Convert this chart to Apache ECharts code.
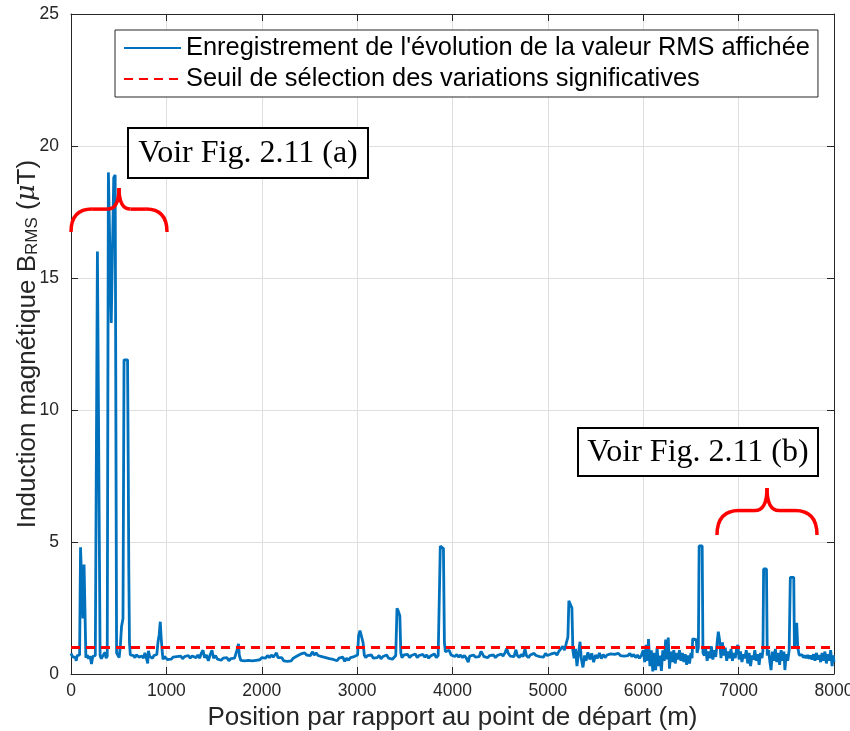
<!DOCTYPE html>
<html lang="fr">
<head>
<meta charset="UTF-8">
<title>Induction magnétique B_RMS</title>
<script src="https://cdn.jsdelivr.net/npm/echarts@6/dist/echarts.min.js"></script>
<style>
  html, body { margin: 0; padding: 0; background: #fff; }
  #chart { width: 850px; height: 731px; }
</style>
</head>
<body>
<div id="chart"></div>
<script>
// relevé B_RMS (µT) en fonction de la position (m)
var trace0to1000 = [
  [0,0.78],[15,0.66],[30,0.72],[45,0.62],[55,0.5],[65,0.7],[80,0.64],[90,0.72],
  [100,4.8],[118,4.8],[125,2.1],[132,2.1],[137,4.15],[148,4.1],[156,0.62],[170,0.72],
  [185,0.58],[200,0.68],[215,0.38],[228,0.66],[242,0.6],[255,0.7],[263,0.75],
  [277,16.0],[296,16.05],[305,0.7],[318,0.58],[330,0.66],[345,0.6],[358,0.82],[368,0.6],[380,0.68],
  [392,19.0],[410,19.05],[422,13.3],[432,13.3],[448,18.8],[463,18.9],[478,0.8],
  [490,0.72],[505,0.62],[518,1.1],[530,1.8],[545,2.1],[556,11.9],[576,11.95],[593,11.9],
  [600,8.0],[606,4.0],[613,1.2],[622,0.72],[640,0.66],[655,0.7],[670,0.62],[685,0.72],
  [700,0.66],[715,0.64],[730,0.7],[745,0.68],[760,0.6],[775,0.8],[790,0.62],[804,0.4],
  [812,0.88],[825,0.66],[840,0.72],[855,0.6],[870,0.7],[885,0.64],[900,0.74],[912,1.2],
  [925,1.5],[936,1.98],[945,1.4],[955,0.9],[965,0.55],[980,0.66],[995,0.6]
];
var trace1000to2000 = [
  [1010,0.55],[1030,0.62],[1050,0.56],[1070,0.64],[1090,0.58],[1110,0.66],[1130,0.6],[1150,0.68],
  [1170,0.58],[1190,0.66],[1210,0.62],[1230,0.7],[1250,0.6],[1270,0.68],[1290,0.74],[1310,0.62],
  [1330,0.72],[1350,0.6],[1365,0.78],[1384,0.9],[1400,0.62],[1420,0.72],[1440,0.5],[1460,0.74],
  [1478,0.9],[1495,0.6],[1515,0.7],[1535,0.56],[1555,0.62],[1575,0.52],[1595,0.6],[1615,0.55],
  [1635,0.62],[1655,0.5],[1675,0.58],[1695,0.54],[1715,0.6],[1735,0.62],[1748,1.0],[1756,1.14],
  [1765,0.7],[1780,0.52],[1800,0.58],[1820,0.5],[1840,0.56],[1860,0.52],[1880,0.58],[1900,0.5],
  [1920,0.55],[1940,0.52],[1960,0.58],[1980,0.54]
];
var trace2000to3000 = [
  [2000,0.62],[2020,0.68],[2040,0.6],[2060,0.7],[2080,0.62],[2100,0.72],[2120,0.64],[2140,0.7],
  [2155,0.8],[2170,0.62],[2190,0.56],[2210,0.62],[2230,0.5],[2250,0.56],[2270,0.48],[2290,0.55],
  [2310,0.5],[2330,0.6],[2350,0.56],[2370,0.68],[2390,0.64],[2410,0.76],[2430,0.7],[2450,0.8],
  [2470,0.72],[2490,0.78],[2510,0.7],[2530,0.84],[2550,0.72],[2570,0.8],[2590,0.7],[2610,0.76],
  [2630,0.66],[2650,0.72],[2670,0.62],[2690,0.68],[2710,0.58],[2730,0.64],[2750,0.55],[2770,0.62],
  [2790,0.5],[2810,0.6],[2830,0.55],[2850,0.64],[2870,0.48],[2890,0.6],[2910,0.52],[2930,0.62],
  [2950,0.55],[2970,0.66],[2990,0.6]
];
var trace3000to4000 = [
  [3005,0.72],[3015,1.45],[3030,1.64],[3050,1.6],[3062,1.2],[3075,0.72],[3090,0.62],[3110,0.7],
  [3130,0.64],[3150,0.72],[3170,0.6],[3190,0.66],[3210,0.62],[3230,0.7],[3250,0.58],[3270,0.66],
  [3290,0.62],[3310,0.72],[3330,0.6],[3350,0.66],[3370,0.56],[3390,0.6],[3405,0.7],[3418,2.49],
  [3430,2.4],[3448,2.2],[3458,0.8],[3470,0.62],[3490,0.72],[3510,0.66],[3530,0.74],[3550,0.62],
  [3570,0.7],[3590,0.66],[3610,0.76],[3630,0.62],[3650,0.7],[3670,0.66],[3690,0.74],[3710,0.64],
  [3730,0.72],[3750,0.6],[3770,0.68],[3790,0.66],[3810,0.76],[3830,0.62],[3850,0.7],[3862,0.66],
  [3872,4.85],[3890,4.8],[3905,4.75],[3915,1.2],[3925,0.85],[3945,0.78],[3965,0.9],[3985,0.72]
];
var trace4000to5000 = [
  [4005,0.76],[4025,0.66],[4045,0.74],[4065,0.64],[4085,0.72],[4105,0.62],[4125,0.7],[4145,0.6],
  [4165,0.45],[4180,0.68],[4200,0.62],[4220,0.72],[4240,0.64],[4260,0.7],[4280,0.66],[4300,0.86],
  [4315,0.8],[4330,0.66],[4350,0.72],[4370,0.62],[4390,0.7],[4410,0.66],[4430,0.72],[4450,0.62],
  [4470,0.7],[4490,0.66],[4510,0.76],[4530,0.68],[4550,0.8],[4568,0.97],[4585,0.78],[4605,0.68],
  [4625,0.74],[4645,0.66],[4665,0.92],[4680,0.7],[4700,0.62],[4720,0.74],[4740,0.66],[4760,0.95],
  [4775,0.7],[4795,0.62],[4815,0.72],[4835,0.66],[4855,0.78],[4875,0.7],[4895,0.76],[4915,0.66],
  [4935,0.72],[4955,0.64],[4975,0.78],[4995,0.7]
];
var trace5000to6000 = [
  [5015,0.66],[5035,0.76],[5055,0.7],[5075,0.8],[5095,0.72],[5115,0.86],[5135,0.92],[5155,1.05],
  [5175,0.9],[5195,1.2],[5210,1.4],[5220,2.77],[5235,2.75],[5252,2.5],[5262,0.9],[5275,0.6],
  [5290,0.95],[5305,0.3],[5320,0.75],[5337,1.22],[5350,0.6],[5368,0.25],[5385,0.7],[5400,0.5],
  [5420,0.82],[5440,0.55],[5460,0.78],[5480,0.45],[5500,0.72],[5520,0.6],[5540,0.8],[5560,0.58],
  [5580,0.74],[5600,0.62],[5620,0.72],[5640,0.68],[5660,0.76],[5680,0.7],[5700,0.74],[5720,0.68],
  [5740,0.78],[5760,0.7],[5780,0.76],[5800,0.68],[5820,0.74],[5840,0.7],[5860,0.78],[5880,0.66],
  [5900,0.74],[5920,0.62],[5940,0.72],[5960,0.6],[5980,0.7]
];
var trace6000to7000 = [
  [6000,0.9],[6015,0.45],[6030,1.1],[6045,0.5],[6055,1.32],[6070,0.3],[6085,0.9],[6100,0.1],
  [6115,0.8],[6130,0.15],[6145,1.0],[6160,0.3],[6175,0.7],[6190,0.12],[6205,0.9],[6220,0.5],
  [6235,1.3],[6250,0.55],[6262,1.38],[6275,0.2],[6290,0.85],[6305,0.45],[6320,0.9],[6335,0.4],
  [6350,0.8],[6365,0.55],[6380,0.9],[6395,0.5],[6410,0.8],[6425,0.45],[6440,0.75],[6455,0.35],
  [6470,0.7],[6485,0.4],[6500,0.8],[6512,0.6],[6518,1.33],[6556,1.3],[6565,0.8],[6578,1.0],
  [6586,4.85],[6618,4.85],[6626,0.8],[6640,0.7],[6655,0.95],[6670,0.5],[6685,0.85],[6700,0.6],
  [6715,1.05],[6730,0.55],[6745,0.9],[6760,0.65],[6775,1.2],[6787,1.6],[6800,1.3],[6815,0.6],
  [6830,1.2],[6845,0.7],[6860,1.0],[6875,0.5],[6890,0.85],[6905,0.6],[6920,0.95],[6935,0.5],
  [6950,0.8],[6965,0.6],[6980,1.0],[6992,1.1]
];
var trace7000to8000 = [
  [7005,0.55],[7020,0.85],[7035,0.45],[7050,0.75],[7065,0.6],[7080,0.9],[7095,0.4],[7110,0.8],
  [7125,0.3],[7140,0.7],[7155,0.55],[7170,0.9],[7185,0.5],[7200,0.75],[7215,0.35],[7230,0.8],
  [7245,0.6],[7255,0.9],[7262,3.98],[7292,3.98],[7300,0.7],[7315,0.9],[7328,0.45],[7340,0.15],
  [7355,0.85],[7370,0.5],[7385,0.95],[7400,0.45],[7415,0.8],[7430,0.35],[7445,0.9],[7460,0.5],
  [7475,0.85],[7485,0.15],[7500,0.75],[7515,0.5],[7530,0.9],[7542,3.66],[7578,3.66],[7585,1.0],
  [7600,1.5],[7609,1.94],[7620,1.0],[7635,0.72],[7650,0.66],[7665,0.72],[7680,0.62],[7695,0.7],
  [7710,0.6],[7725,0.72],[7740,0.58],[7755,0.7],[7770,0.55],[7785,0.75],[7800,0.5],[7815,0.8],
  [7830,0.55],[7845,0.72],[7860,0.45],[7875,0.8],[7890,0.5],[7905,0.85],[7920,0.4],[7935,0.75],
  [7950,0.5],[7965,0.9],[7980,0.3],[7992,0.7],[8000,0.45]
];
var seuil = [[0, 1], [8000, 1]];
var xTicks = [0, 8000, 1000];
var yTicks = [0, 25, 5];

var trace = [].concat(trace0to1000, trace1000to2000, trace2000to3000, trace3000to4000,
                      trace4000to5000, trace5000to6000, trace6000to7000, trace7000to8000);

var axisCol = '#262626';
var sans = 'Liberation Sans, Arial, sans-serif';

// accolade rouge, faite de courbes et segments (pixels)
function brace(x0, x1, yEnd, yTip) {
  var xc = (x0 + x1) / 2, w = x1 - x0;
  var ym = yEnd - (yEnd - yTip) * 0.52;
  var st = { stroke: '#FF0000', lineWidth: 3.5, fill: null };
  function q(ax, ay, cx, cy, bx, by) {
    return { type: 'bezierCurve', z: 100, shape: { x1: ax, y1: ay, cpx1: cx, cpy1: cy, x2: bx, y2: by }, style: st };
  }
  function l(ax, ay, bx, by) {
    return { type: 'line', z: 100, shape: { x1: ax, y1: ay, x2: bx, y2: by }, style: st };
  }
  return [
    q(x0, yEnd, x0, ym, x0 + w * 0.22, ym),
    l(x0 + w * 0.22, ym, xc - w * 0.12, ym),
    q(xc - w * 0.12, ym, xc, ym, xc, yTip),
    q(xc, yTip, xc, ym, xc + w * 0.12, ym),
    l(xc + w * 0.12, ym, x1 - w * 0.22, ym),
    q(x1 - w * 0.22, ym, x1, ym, x1, yEnd)
  ];
}

function noteBox(x, y, w, h, txt) {
  return [
    { type: 'rect', z: 100, shape: { x: x, y: y, width: w, height: h },
      style: { fill: '#fff', stroke: '#000', lineWidth: 2 } },
    { type: 'text', z: 101, x: x + w / 2, y: y + h / 2 + 1,
      style: { text: txt, fontFamily: 'Liberation Serif, DejaVu Serif, serif', fontSize: 32,
               fill: '#000', align: 'center', verticalAlign: 'middle' } }
  ];
}

function plain(v) { return String(v); }

var chart = echarts.init(document.getElementById('chart'));
var option = {
  animation: false,
  backgroundColor: '#fff',
  grid: { left: 71, right: 16, top: 14, bottom: 57, containLabel: false, outerBoundsMode: 'none' },
  legend: {
    left: 115, top: 30, orient: 'vertical',
    backgroundColor: '#fff', borderColor: axisCol, borderWidth: 1, borderRadius: 0,
    padding: [4, 8, 4, 8], itemGap: 3, itemWidth: 57, itemHeight: 14,
    itemStyle: { opacity: 0 },
    textStyle: { fontSize: 25.4, lineHeight: 28, color: '#000', fontFamily: sans },
    data: ["Enregistrement de l'évolution de la valeur RMS affichée",
           'Seuil de sélection des variations significatives']
  },
  xAxis: [{
    type: 'value', min: xTicks[0], max: xTicks[1], interval: xTicks[2],
    name: 'Position par rapport au point de départ (m)', nameLocation: 'middle', nameGap: 30,
    nameTextStyle: { fontSize: 26, color: axisCol, fontFamily: sans },
    axisLine: { show: true, onZero: false, lineStyle: { color: axisCol, width: 1 } },
    axisTick: { inside: true, length: 7, lineStyle: { color: axisCol } },
    axisLabel: { fontSize: 17.5, color: axisCol, fontFamily: sans, margin: 8, formatter: plain },
    splitLine: { show: true, lineStyle: { color: '#dfdfdf', width: 1 } }
  }, {
    type: 'value', position: 'top', min: xTicks[0], max: xTicks[1], interval: xTicks[2],
    axisLine: { show: true, onZero: false, lineStyle: { color: axisCol, width: 1 } },
    axisTick: { inside: true, length: 7, lineStyle: { color: axisCol } },
    axisLabel: { show: false }, splitLine: { show: false }
  }],
  yAxis: [{
    type: 'value', min: yTicks[0], max: yTicks[1], interval: yTicks[2],
    name: 'Induction magnétique B{sub|RMS} ({mu|μ}T)', nameLocation: 'middle', nameGap: 30,
    nameMoveOverlap: false,
    nameTextStyle: {
      fontSize: 26, color: axisCol, fontFamily: sans,
      rich: {
        sub: { fontSize: 17, color: axisCol, fontFamily: sans, padding: [10, 0, 0, 0] },
        mu: { fontSize: 26, color: axisCol, fontFamily: 'DejaVu Serif, serif', fontStyle: 'italic' }
      }
    },
    axisLine: { show: true, onZero: false, lineStyle: { color: axisCol, width: 1 } },
    axisTick: { inside: true, length: 7, lineStyle: { color: axisCol } },
    axisLabel: { fontSize: 17.5, color: axisCol, fontFamily: sans, margin: 12, formatter: plain },
    splitLine: { show: true, lineStyle: { color: '#dfdfdf', width: 1 } }
  }, {
    type: 'value', position: 'right', min: yTicks[0], max: yTicks[1], interval: yTicks[2],
    axisLine: { show: true, onZero: false, lineStyle: { color: axisCol, width: 1 } },
    axisTick: { inside: true, length: 7, lineStyle: { color: axisCol } },
    axisLabel: { show: false }, splitLine: { show: false }
  }],
  series: [{
    name: "Enregistrement de l'évolution de la valeur RMS affichée",
    type: 'line', data: trace, showSymbol: false, symbol: 'none',
    lineStyle: { color: '#0072BD', width: 2.8 }, itemStyle: { color: '#0072BD' },
    z: 2
  }, {
    name: 'Seuil de sélection des variations significatives',
    type: 'line', data: seuil, showSymbol: false, symbol: 'none',
    lineStyle: { color: '#FF0000', width: 3, type: [9, 6] }, itemStyle: { color: '#FF0000' },
    z: 3
  }],
  graphic: [].concat(
    noteBox(128, 128, 240, 50, 'Voir Fig. 2.11 (a)'),
    noteBox(578, 428, 240, 48, 'Voir Fig. 2.11 (b)'),
    brace(71, 167, 232, 188),
    brace(717, 817, 535, 488)
  )
};
chart.setOption(option);
</script>
</body>
</html>
